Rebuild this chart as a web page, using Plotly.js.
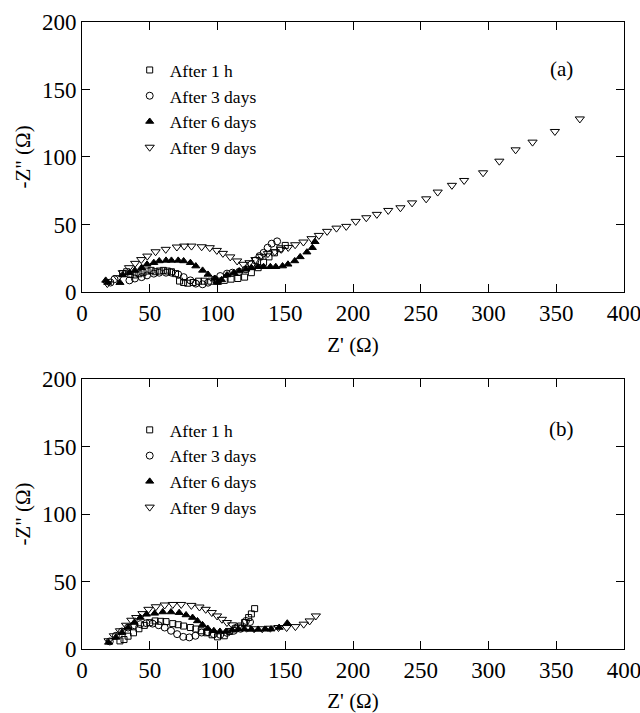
<!DOCTYPE html>
<html>
<head>
<meta charset="utf-8">
<script src="https://cdn.plot.ly/plotly-3.0.1.min.js"></script>
<style>body{margin:0;padding:0;background:#fff}#chart{width:640px;height:713px}</style>
</head>
<body>
<div id="chart"></div>
<script>
// ---------- Series names ----------
const seriesNames = ['After 1 h', 'After 3 days', 'After 6 days', 'After 9 days'];

// ---------- Panel (a) ----------
const a_1h_x = [30, 33, 36, 39, 42, 45, 48, 51, 54, 57, 60, 63, 66, 69, 72, 75, 78, 82, 86, 90, 95, 100, 105, 110, 115, 120, 125, 130, 134, 138, 142, 146, 150];
const a_1h_y = [13.6, 15, 13, 12.6, 13.5, 14.3, 15.5, 16, 15, 15.5, 16, 15.5, 15, 13.6, 8.1, 7, 6.5, 7, 8, 8, 8, 8.1, 8.6, 9.5, 10, 11, 14.3, 18, 22, 26, 29, 32, 34.5];
const a_3d_x = [21, 24, 35, 39, 44, 48, 53, 57, 62, 66, 71, 75, 80, 84, 89, 93, 98, 102, 107, 111, 116, 121, 125, 128, 131, 134, 137, 140, 144];
const a_3d_y = [7, 9.5, 8.6, 10, 11, 12.3, 13.6, 14.3, 14.3, 14.3, 13, 11, 8.6, 6.2, 5.7, 6.9, 9.4, 11.8, 13.6, 14.3, 15, 16.8, 20.5, 23.4, 26.6, 29, 32.8, 35.8, 37.5];
const a_6d_x = [17.5, 19, 28, 30, 35, 39, 44, 48, 53, 57, 62, 66, 71, 75, 80, 84, 89, 93, 98, 100, 103, 107, 112, 116, 121, 125, 130, 134, 139, 143, 148, 152, 157, 161, 166, 170, 172];
const a_6d_y = [8.6, 7, 6.9, 12.6, 14.3, 16, 18, 20.5, 21.7, 23, 23.4, 23.4, 23.4, 23, 21.7, 19.2, 16, 13, 10, 7, 9, 12.6, 14.3, 15.5, 16.8, 18, 18.7, 18.7, 18.7, 18.7, 19.2, 20.5, 23, 26, 29.5, 32.8, 37.2];
const a_9d_x = [18.7, 26.5, 30.1, 34.7, 39.2, 43.7, 48.2, 54.3, 61.8, 70, 75.4, 80.8, 88.3, 94.3, 99.5, 104, 109.4, 114.5, 119, 123.6, 128, 132.6, 137.2, 142.3, 147, 152.2, 157.3, 163.4, 169.4, 174.8, 180.9, 187.8, 195, 202, 209.8, 217.6, 226, 235, 243.6, 254, 262.5, 273, 282, 296, 308, 320, 332.5, 349, 367.4];
const a_9d_y = [6.2, 10.6, 14.3, 18, 21.2, 24, 26.6, 29.8, 31.6, 33.3, 34, 34, 33.5, 32.8, 30.8, 28.6, 26, 23, 20.5, 21.7, 24, 26.4, 28.4, 29.8, 31.6, 33, 35, 37, 39.5, 41.9, 44.9, 47.3, 48.6, 52.3, 55, 57.5, 60.4, 62.4, 66, 69, 74, 79, 82.6, 88.3, 96.9, 105.3, 111, 118.9, 128.2];

// ---------- Panel (b) ----------
const b_1h_x = [28, 31, 34, 38, 42, 46, 50, 54, 58, 62, 67, 71, 75, 80, 84, 88, 92, 96, 100, 105, 109, 113, 117, 120, 123, 125, 127.4];
const b_1h_y = [6, 7, 9.5, 12, 15, 17.5, 19.5, 20.8, 20.5, 20.3, 18.8, 18, 17, 15.9, 14.8, 13.5, 12, 10.5, 9, 9.8, 13, 15, 17, 19.6, 23.3, 26, 29.9];
const b_3d_x = [20.5, 25, 29.5, 34, 38.6, 43, 47.6, 52.1, 56.6, 61, 65.7, 70.2, 74.7, 79.2, 83.7, 88.3, 92.8, 97.3, 102, 107, 112, 117, 121, 124];
const b_3d_y = [5.6, 9.8, 13, 15.9, 17.6, 18.4, 19.1, 18.8, 17.6, 15.9, 13.5, 11, 9, 8.6, 9.8, 12.2, 12.5, 11, 10.5, 12, 13.5, 15, 20.8, 20];
const b_6d_x = [19.6, 25, 29.5, 34, 38.6, 43, 47.6, 53.6, 59.6, 65.7, 71.7, 76.8, 81.6, 85.2, 88.9, 92.8, 97.3, 101.8, 106.3, 110.8, 115.4, 120, 125, 130, 135, 139.5, 145.5, 151.5];
const b_6d_y = [4.9, 8.6, 12.2, 15.9, 19.6, 23.3, 25.7, 26.4, 27.4, 27.4, 26.9, 25.2, 23.3, 20.8, 17.9, 15.2, 13.5, 13, 13, 14, 14.7, 14.7, 14.5, 14.5, 14.6, 14.7, 15.9, 19.1];
const b_9d_x = [19.6, 23.5, 28, 32.5, 36.4, 40, 44.6, 49, 54.5, 61, 67, 73.2, 80.7, 86.7, 91.3, 95.8, 99.7, 103.3, 107, 110.8, 115.4, 121.4, 127, 133, 139, 145, 151, 157.5, 163.6, 168, 172.6];
const b_9d_y = [6.1, 9.8, 13.5, 17.6, 21.3, 23.3, 26.2, 29.4, 31.3, 32.6, 33, 33, 32.3, 31.1, 29.4, 27, 24.5, 22, 19.6, 17.9, 16.4, 15.4, 15, 15, 15.4, 15.9, 15.9, 16.6, 18.4, 20.8, 24.5];

// ---------- Tick values ----------
const xTicks = [0, 50, 100, 150, 200, 250, 300, 350, 400];
const yTicks = [0, 50, 100, 150, 200];

const symbols = ['square-open', 'circle-open', 'triangle-up', 'triangle-down-open'];
const sizes = [6, 7, 7, 8];
const FONT = 'Liberation Serif, Times New Roman, serif';

function mk(x, y, i, panel) {
  return {
    x: x, y: y, type: 'scatter', mode: 'markers',
    name: seriesNames[i],
    xaxis: panel === 'a' ? 'x' : 'x2',
    yaxis: panel === 'a' ? 'y' : 'y2',
    legend: panel === 'a' ? 'legend' : 'legend2',
    legendgroup: panel + i,
    marker: { symbol: symbols[i], size: sizes[i], color: '#000', line: { color: '#000', width: 1 } }
  };
}

const data = [
  mk(a_1h_x, a_1h_y, 0, 'a'), mk(a_3d_x, a_3d_y, 1, 'a'), mk(a_6d_x, a_6d_y, 2, 'a'), mk(a_9d_x, a_9d_y, 3, 'a'),
  mk(b_1h_x, b_1h_y, 0, 'b'), mk(b_3d_x, b_3d_y, 1, 'b'), mk(b_6d_x, b_6d_y, 2, 'b'), mk(b_9d_x, b_9d_y, 3, 'b')
];

function xa(anchor) {
  return {
    anchor: anchor, range: [0, 400], tickvals: xTicks, ticks: 'inside', ticklen: 8, tickcolor: '#000',
    showline: true, linecolor: '#000', linewidth: 1, mirror: 'ticks', showgrid: false, zeroline: false,
    ticklabeloverflow: 'allow',
    tickfont: { family: FONT, size: 23, color: '#000' },
    title: { text: "Z' (\u03A9)", font: { family: FONT, size: 21, color: '#000' }, standoff: 12 }
  };
}
function ya(anchor, domain) {
  return {
    anchor: anchor, domain: domain, range: [0, 200], tickvals: yTicks, ticks: 'inside', ticklen: 8, tickcolor: '#000',
    showline: true, linecolor: '#000', linewidth: 1, mirror: 'ticks', showgrid: false, zeroline: false,
    tickfont: { family: FONT, size: 23, color: '#000' },
    title: { text: '-Z" (\u03A9)', font: { family: FONT, size: 21, color: '#000' }, standoff: 5 }
  };
}

const legendBase = {
  xref: 'paper', yref: 'paper', xanchor: 'left', yanchor: 'top',
  bgcolor: 'rgba(0,0,0,0)', borderwidth: 0,
  font: { family: FONT, size: 17.5, color: '#000' },
  traceorder: 'grouped', tracegroupgap: 0, itemwidth: 30
};

const layout = {
  width: 640, height: 713,
  margin: { l: 82, r: 16, t: 22, b: 64 },
  paper_bgcolor: '#fff', plot_bgcolor: '#fff',
  showlegend: true,
  xaxis: xa('y'),
  yaxis: ya('x', [0.5694, 1]),
  xaxis2: xa('y2'),
  yaxis2: ya('x2', [0, 0.4306]),
  legend: Object.assign({}, legendBase, { x: 0.088, y: 0.952 }),
  legend2: Object.assign({}, legendBase, { x: 0.088, y: 0.378 }),
  annotations: [
    { text: '(a)', x: 354, y: 165, xref: 'x', yref: 'y', showarrow: false, font: { family: FONT, size: 21, color: '#000' } },
    { text: '(b)', x: 354, y: 163, xref: 'x2', yref: 'y2', showarrow: false, font: { family: FONT, size: 21, color: '#000' } }
  ]
};

Plotly.newPlot('chart', data, layout, { staticPlot: true, displayModeBar: false });
</script>
</body>
</html>
